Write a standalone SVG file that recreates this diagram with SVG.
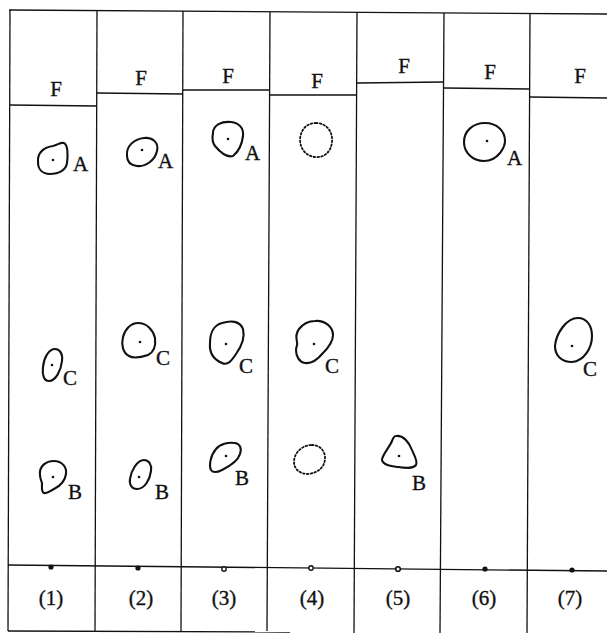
<svg xmlns="http://www.w3.org/2000/svg" width="607" height="633" viewBox="0 0 607 633">
<style>
.fr{stroke:#111;stroke-width:1.3;fill:none}
.bl{stroke:#111;stroke-width:2.1;fill:none;stroke-linejoin:round}
.dt{stroke:#111;stroke-width:1.8;fill:none;stroke-dasharray:1.6 2.2;stroke-linecap:round}
.c{fill:#111}
.t{font-family:"Liberation Serif","Times New Roman",serif;font-size:21px;fill:#111;stroke:#111;stroke-width:0.35}
.m{text-anchor:middle}
</style>
<rect width="607" height="633" fill="#fff"/>
<g id="frame">
<line class="fr" x1="9" y1="10" x2="607" y2="14"/>
<line class="fr" x1="10" y1="10" x2="8" y2="631"/>
<line class="fr" x1="97" y1="11" x2="95" y2="631"/>
<line class="fr" x1="183" y1="11" x2="181" y2="631"/>
<line class="fr" x1="270" y1="12" x2="267" y2="631"/>
<line class="fr" x1="357" y1="12" x2="354" y2="633"/>
<line class="fr" x1="444" y1="13" x2="440" y2="633"/>
<line class="fr" x1="530" y1="13" x2="527" y2="633"/>
<line class="fr" x1="8" y1="631" x2="290" y2="632"/>
<line class="fr" x1="8" y1="565" x2="607" y2="571"/>
<line class="fr" x1="10" y1="105" x2="97" y2="106"/>
<line class="fr" x1="97" y1="93" x2="183" y2="94"/>
<line class="fr" x1="183" y1="90" x2="270" y2="90"/>
<line class="fr" x1="270" y1="95" x2="357" y2="95"/>
<line class="fr" x1="357" y1="83" x2="444" y2="82"/>
<line class="fr" x1="444" y1="88" x2="530" y2="89"/>
<line class="fr" x1="530" y1="97" x2="607" y2="98"/>
</g>
<g id="axis-points">
<circle class="c" cx="51" cy="567" r="2.6"/>
<circle class="c" cx="138" cy="568" r="2.6"/>
<circle cx="224" cy="569" r="2.2" fill="#fff" stroke="#111" stroke-width="1.4"/>
<circle cx="311" cy="568" r="2.2" fill="#fff" stroke="#111" stroke-width="1.4"/>
<circle cx="398" cy="569" r="2.3" fill="#fff" stroke="#111" stroke-width="1.6"/>
<circle class="c" cx="485" cy="569" r="2.6"/>
<circle class="c" cx="572" cy="570" r="2.6"/>
</g>
<g id="col1">
<text class="t m" x="56" y="96">F</text>
<path class="bl" d="M38,162 C37,152 45,147 53,146 C58,145 60,142 64,143 C68,145 68,156 67,163 C66,170 59,174 50,174 C42,174 38,169 38,162 Z"/>
<circle class="c" cx="53" cy="160" r="1.3"/>
<text class="t" x="73" y="171">A</text>
<path class="bl" d="M55,349 C60,349 63,354 62,361 C61,370 56,381 49,381 C44,381 42,375 43,367 C44,357 49,349 55,349 Z"/>
<circle class="c" cx="52" cy="365" r="1.3"/>
<text class="t" x="63" y="385">C</text>
<path class="bl" d="M40,475 C39,466 46,461 54,461 C62,461 67,467 66,474 C65,481 60,486 54,489 C50,491 47,494 44,493 C41,492 42,487 42,483 C41,480 40,478 40,475 Z"/>
<circle class="c" cx="53" cy="477" r="1.3"/>
<text class="t" x="68" y="499">B</text>
<text class="t m" x="51" y="605">(1)</text>
</g>
<g id="col2">
<text class="t m" x="141" y="85">F</text>
<path class="bl" d="M127,156 C126,146 134,139 144,138 C153,137 159,143 157,151 C155,160 146,167 137,166 C130,165 127,161 127,156 Z"/>
<circle class="c" cx="142" cy="150" r="1.3"/>
<text class="t" x="158" y="168">A</text>
<path class="bl" d="M138,323 C147,323 153,330 155,338 C156,346 154,352 148,355 C142,357 134,359 129,356 C123,353 121,345 123,337 C125,329 131,323 138,323 Z"/>
<circle class="c" cx="140" cy="342" r="1.3"/>
<text class="t" x="156" y="365">C</text>
<path class="bl" d="M144,460 C149,460 152,465 151,471 C150,479 145,489 137,489 C132,489 129,485 130,479 C131,471 137,460 144,460 Z"/>
<circle class="c" cx="139" cy="477" r="1.3"/>
<text class="t" x="155" y="499">B</text>
<text class="t m" x="141" y="605">(2)</text>
</g>
<g id="col3">
<text class="t m" x="228" y="83">F</text>
<path class="bl" d="M213,133 C213,125 222,121 231,122 C239,123 244,128 243,136 C242,144 238,152 233,156 C226,158 220,152 215,146 C212,142 212,138 213,133 Z"/>
<circle class="c" cx="228" cy="139" r="1.3"/>
<text class="t" x="245" y="160">A</text>
<path class="bl" d="M222,323 C231,320 240,321 243,329 C245,337 241,347 236,354 C232,360 228,366 222,363 C215,360 209,354 210,343 C210,333 214,325 222,323 Z"/>
<circle class="c" cx="226" cy="344" r="1.3"/>
<text class="t" x="239" y="373">C</text>
<path class="bl" d="M216,449 C220,444 228,442 235,443 C240,444 242,448 240,454 C238,461 230,466 222,470 C218,472 213,473 211,470 C209,466 210,456 216,449 Z"/>
<circle class="c" cx="226" cy="456" r="1.3"/>
<text class="t" x="235" y="485">B</text>
<text class="t m" x="224" y="605">(3)</text>
</g>
<g id="col4">
<text class="t m" x="317" y="88">F</text>
<path class="dt" d="M316,123 C326,123 333,131 332,142 C331,152 324,158 315,157 C306,156 300,149 300,139 C301,129 307,123 316,123 Z"/>
<path class="bl" d="M315,321 C325,320 333,327 333,335 C333,342 328,348 323,353 C318,359 312,364 305,363 C299,362 296,356 296,350 C296,347 298,345 297,342 C296,338 296,333 299,329 C303,324 309,321 315,321 Z"/>
<circle class="c" cx="314" cy="344" r="1.3"/>
<text class="t" x="325" y="373">C</text>
<path class="dt" d="M312,445 C320,445 325,451 325,458 C325,467 318,473 308,474 C300,474 294,469 294,462 C294,453 302,445 312,445 Z"/>
<text class="t m" x="312" y="605">(4)</text>
</g>
<g id="col5">
<text class="t m" x="404" y="73">F</text>
<path class="bl" d="M396,436 C403,435 409,442 412,450 C414,455 418,461 416,465 C413,469 405,468 398,467 C391,466 383,465 382,460 C382,455 389,448 392,441 C393,438 394,436 396,436 Z"/>
<circle class="c" cx="399" cy="456" r="1.3"/>
<text class="t" x="412" y="490">B</text>
<text class="t m" x="398" y="605">(5)</text>
</g>
<g id="col6">
<text class="t m" x="490" y="79">F</text>
<path class="bl" d="M485,123 C497,123 505,131 505,141 C505,147 502,150 500,153 C496,158 490,161 484,161 C472,161 464,152 464,142 C464,131 473,123 485,123 Z"/>
<circle class="c" cx="487" cy="141" r="1.3"/>
<text class="t" x="507" y="165">A</text>
<text class="t m" x="484" y="605">(6)</text>
</g>
<g id="col7">
<text class="t m" x="580" y="83">F</text>
<path class="bl" d="M578,318 C587,318 592,326 592,336 C592,348 584,361 572,362 C562,362 555,356 555,346 C556,334 566,318 578,318 Z"/>
<circle class="c" cx="572" cy="346" r="1.3"/>
<text class="t" x="583" y="376">C</text>
<text class="t m" x="570" y="605">(7)</text>
</g>
</svg>
